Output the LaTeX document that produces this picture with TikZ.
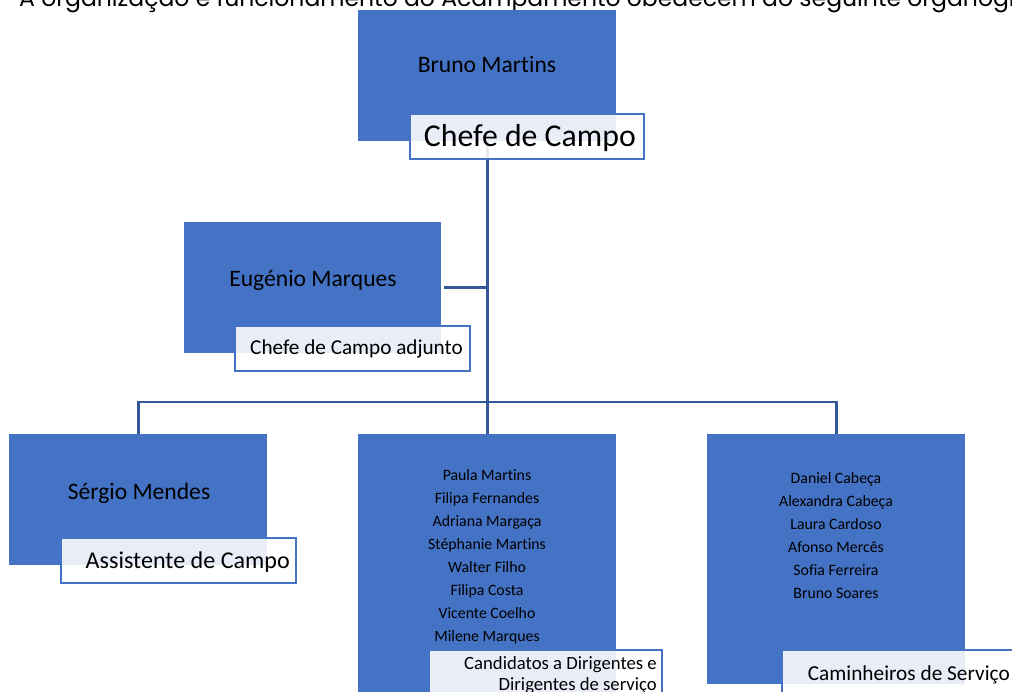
\documentclass[tikz,border=0pt]{standalone}
\usepackage{fontspec}
\setmainfont{Carlito}[Ligatures=NoCommon]
\newfontfamily\introfont{Poppins}
\usepackage{tikz}
\usetikzlibrary{positioning}
\definecolor{accent}{RGB}{68,114,196}
\definecolor{linkblue}{RGB}{52,88,156}

\begin{document}
\begin{tikzpicture}[x=1pt,y=-1pt,
    person/.style={fill=accent,inner sep=0,anchor=north west,minimum width=258,minimum height=131},
    role/.style={draw=accent,line width=1.8pt,fill=white,fill opacity=0.88,inner sep=0,anchor=north west,minimum width=234,minimum height=45},
    leader/.style={anchor=base,inner sep=0,font=\fontsize{23.6}{28}\selectfont},
    member/.style={anchor=base,inner sep=0,font=\fontsize{15.8}{19}\selectfont},
    rolename/.style={anchor=base east,inner sep=0,align=right},
    link/.style={draw=linkblue,line width=2.6pt}]
\useasboundingbox (0,0) rectangle (1012,692);
\clip (0,0) rectangle (1012,692);

% line of text above the chart, cut by the page edge
\node[anchor=base west,inner sep=0,font=\introfont\fontsize{23.5}{28}\selectfont] (intro) at (19,7)
    {A organização e funcionamento do Acampamento obedecem ao seguinte organograma:};

% boxes
\node[person] (chefe) at (358,10) {};
\node[person,minimum width=257] (adjunto) at (184,222) {};
\node[person] (assist) at (9,434) {};
\node[person,minimum height=280] (cand) at (358,434) {};
\node[person,minimum height=250] (camin) at (707,434) {};

% connectors
\coordinate (hub) at (487,402);
\draw[link] (chefe.south) -- (cand.north);
\draw[link] ([xshift=3pt]adjunto.east) -- (adjunto.east -| chefe.south);
\draw[link] (assist.north) |- (hub) -| (camin.north);

% role labels
\node[role] (lchefe) at (409,113) {};
\node[role,minimum width=235] (ladjunto) at (234,325) {};
\node[role,minimum width=235] (lassist) at (60,537) {};
\node[role,minimum width=233,minimum height=60] (lcand) at (428,649) {};
\node[role,minimum height=60] (lcamin) at (781,649) {};

% names
\node[leader] (nchefe) at (487,73) {Bruno Martins};
\node[leader] (nadjunto) at (313,287) {Eugénio Marques};
\node[leader] (nassist) at (139,499) {Sérgio Mendes};
\foreach \who [count=\i] in {Paula Martins,Filipa Fernandes,Adriana Margaça,Stéphanie Martins,Walter Filho,Filipa Costa,Vicente Coelho,Milene Marques}
    \node[member] (cand\i) at (487,457+23*\i) {\who};
\foreach \who [count=\i] in {Daniel Cabeça,Alexandra Cabeça,Laura Cardoso,Afonso Mercês,Sofia Ferreira,Bruno Soares}
    \node[member] (camin\i) at (836,460+23*\i) {\who};

% role texts
\node[rolename,font=\fontsize{31.8}{36}\selectfont] (tchefe) at (636,147) {Chefe de Campo};
\node[rolename,font=\fontsize{21.2}{25}\selectfont] (tadjunto) at (463,355) {Chefe de Campo adjunto};
\node[rolename,font=\fontsize{24.1}{28}\selectfont] (tassist) at (290,568) {Assistente de Campo};
\node[rolename,font=\fontsize{18.7}{20.5}\selectfont] (tcand) at (657,690) {Candidatos a Dirigentes e\\Dirigentes de serviço};
\node[rolename,font=\fontsize{21.3}{25}\selectfont] (tcamin) at (1010,680) {Caminheiros de Serviço};
\end{tikzpicture}
\end{document}
